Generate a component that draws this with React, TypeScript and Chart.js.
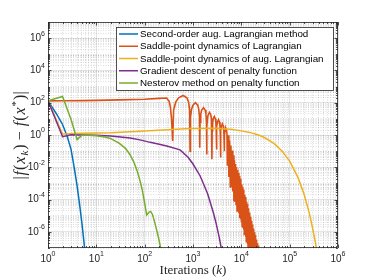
import React, { useEffect, useRef } from 'react';
import { Chart, registerables } from 'chart.js';
Chart.register(...registerables);

const seriesNames = [
  'Second-order aug. Lagrangian method',
  'Saddle-point dynamics of Lagrangian',
  'Saddle-point dynamics of aug. Lagrangian',
  'Gradient descent of penalty function',
  'Nesterov method on penalty function',
];
const seriesColors = ['#0072BD', '#D95319', '#EDB120', '#7E2F8E', '#77AC30'];

const blueK = [1, 1.5, 2, 2.5, 3, 3.5, 4, 4.5, 5, 5.5, 6];
const blueVal = [130, 20, 4.5, 0.8, 0.13, 9e-3, 7e-4, 5e-5, 4e-6, 3e-7, 2.2e-8];

const orangeK = [1, 2, 5, 10, 30, 100, 200, 283, 320, 340, 360, 380,
  397, 441, 503, 625, 748, 809, 853, 870,
  888, 934, 998, 1125, 1253, 1316, 1362, 1380,
  1399, 1448, 1515, 1650, 1785, 1853, 1901, 1920,
  1939, 1989, 2058, 2195, 2333, 2401, 2451, 2470,
  2490, 2543, 2615, 2760, 2905, 2978, 3030, 3050,
  3073, 3131, 3213, 3375, 3538, 3619, 3677, 3700,
  3725, 3790, 3880, 4060, 4240, 4330, 4395, 4420,
  4446, 4511, 4603, 4785, 4968, 5059, 5124, 5150,
  5338, 5525, 5713, 5900, 6088, 6275, 6463, 6650, 6838, 7025,
  7213, 7400, 7588, 7775, 7963, 8150, 8338, 8525, 8713, 8900,
  9088, 9275, 9463, 9650, 9838, 10025, 10213, 10400, 10588, 10775,
  10963, 11150, 11338, 11525, 11713, 11900, 12088, 12275, 12463, 12650,
  12838, 13025, 13213, 13400, 13588, 13775, 13963, 14150, 14338, 14525,
  14713, 14900, 15088, 15275, 15463, 15650, 15838, 16025, 16213, 16400,
  16588, 16775, 16963, 17150, 17338, 17525, 17713, 17900, 18088, 18275,
  18463, 18650, 18838, 19025, 19213, 19400, 19588, 19775, 19963, 20150,
  20338, 20525, 20713, 20900, 21088, 21275, 21463, 21650, 21838, 22025,
  22213, 22400, 22588, 22775, 22963, 23150, 23338, 23525];
const orangeVal = [130, 132, 135, 140, 150, 165, 185, 195, 125, 56, 10, 0.42,
  35, 112, 200, 280, 200, 112, 35, 0.1,
  12.6, 40, 71, 100, 71, 40, 12.6, 0.16,
  6.3, 20, 35, 50, 35, 20, 6.3, 0.063,
  3.2, 10, 17.8, 25, 17.8, 10, 3.2, 0.032,
  1.8, 5.6, 10, 14, 10, 5.6, 1.8, 0.126,
  1.12, 3.5, 6.3, 8.9, 6.3, 3.5, 1.12, 0.04,
  0.63, 2.0, 3.5, 5.0, 3.5, 2.0, 0.63, 0.1,
  0.32, 1.0, 1.8, 2.5, 1.8, 1.0, 0.32, 0.0126,
  0.95, 2.5e-3, 0.45, 6e-4, 0.22, 6.3e-4, 0.11, 3.2e-4, 0.055, 8e-5,
  0.0275, 8e-5, 0.016, 5e-5, 0.0105, 2e-5, 6.8e-3, 2.2e-5, 4.4e-3, 1.4e-5,
  2.9e-3, 7e-6, 1.95e-3, 6.3e-6, 1.32e-3, 4.4e-6, 8.9e-4, 2.2e-6, 6.2e-4, 2e-6,
  4.2e-4, 1.4e-6, 2.9e-4, 7e-7, 2.0e-4, 7e-7, 1.45e-4, 4.9e-7, 1.02e-4, 2.5e-7,
  7.3e-5, 2.5e-7, 5.3e-5, 1.8e-7, 3.9e-5, 1e-7, 2.9e-5, 1e-7, 2.1e-5, 7e-8,
  1.6e-5, 5e-8, 1.17e-5, 3.5e-8, 8.7e-6, 2.5e-8, 6.4e-6, 1.8e-8, 4.9e-6, 1.3e-8,
  3.7e-6, 1e-8, 2.9e-6, 7e-9, 2.1e-6, 5e-9, 1.6e-6, 4e-9, 1.2e-6, 3e-9,
  9.6e-7, 2.5e-9, 7.7e-7, 2e-9, 6.3e-7, 1.6e-9, 5e-7, 1.3e-9, 4.1e-7, 1e-9,
  3.4e-7, 8e-10, 2.9e-7, 7e-10, 2.4e-7, 6e-10, 2.0e-7, 5e-10, 1.7e-7, 4e-10,
  1.45e-7, 3e-10, 1.2e-7, 2.5e-10, 1.02e-7, 2e-10, 8.5e-8, 1.5e-10];

const yellowK = [1, 2, 5, 20, 100, 870, 3000, 6000, 10000, 15000, 20000, 25000, 30000,
  40000, 50000, 70000, 100000, 150000, 200000, 250000, 300000, 350000, 400000];
const yellowVal = [130, 1.15, 1.3, 1.4, 1.8, 2.5, 2.6, 2.25, 1.8, 1.45, 1.12, 0.9, 0.7,
  0.42, 0.26, 0.1, 0.024, 2.2e-3, 2e-4, 1.8e-5, 1.6e-6, 1.4e-7, 1.3e-8];

const purpleK = [1, 2, 3, 5, 10, 20, 50, 80, 130, 200, 300, 540, 800, 1000, 1400, 2000,
  2630, 3000, 3500, 4000];
const purpleVal = [130, 0.78, 1.05, 1.0, 0.95, 0.87, 0.65, 0.5, 0.35, 0.27, 0.2, 0.12, 0.04,
  0.016, 3e-3, 2.4e-4, 1.6e-5, 3.5e-6, 4.4e-7, 5e-8];

const greenK = [1, 2, 3, 4, 5, 7, 10, 15, 20, 30, 40, 50, 60, 70, 80, 90, 100, 110, 122,
  133, 145, 160, 180, 200, 220];
const greenVal = [130, 245, 9, 0.52, 0.95, 0.95, 0.9, 0.75, 0.6, 0.3, 0.15, 0.06, 0.02,
  0.006, 1.5e-3, 3.5e-4, 6e-5, 1.1e-5, 1.6e-5, 1.85e-5, 1.2e-5, 4.3e-6, 1.07e-6, 2.7e-7, 6.8e-8];

const seriesK = [blueK, orangeK, yellowK, purpleK, greenK];
const seriesVal = [blueVal, orangeVal, yellowVal, purpleVal, greenVal];

const xLabelExps = [0, 1, 2, 3, 4, 5, 6];
const yLabelExps = [-6, -4, -2, 0, 2, 4, 6];
const xTitle = ['Iterations (', 'k', ')'];

const AX = '#262626';
const SANS = '"Liberation Sans", Arial, sans-serif';
const SERIF = '"Liberation Serif", "DejaVu Serif", serif';

function buildLogTicks(lo: number, hi: number, isMajor: (e: number) => boolean) {
  const t: any[] = [];
  for (let e = lo; e <= hi; e++) {
    t.push({ value: Math.pow(10, e), major: isMajor(e) });
    if (e < hi) for (let m = 2; m <= 9; m++) t.push({ value: m * Math.pow(10, e), major: false });
  }
  return t;
}

const decor = {
  id: 'decor',
  afterDatasetsDraw(chart: any) {
    const { ctx, chartArea: a, scales } = chart;
    const xs = scales.x, ys = scales.y;
    ctx.save();
    ctx.strokeStyle = AX;
    ctx.lineWidth = 0.8;
    ctx.strokeRect(a.left + 0.5, a.top + 0.5, a.right - a.left - 1, a.bottom - a.top - 1);
    ctx.beginPath();
    for (const t of xs.ticks) {
      const p = Math.round(xs.getPixelForValue(t.value)) + 0.5;
      const len = t.major ? 3.5 : 2;
      ctx.moveTo(p, a.bottom); ctx.lineTo(p, a.bottom - len);
      ctx.moveTo(p, a.top); ctx.lineTo(p, a.top + len);
    }
    for (const t of ys.ticks) {
      const p = Math.round(ys.getPixelForValue(t.value)) + 0.5;
      const len = t.major ? 3.5 : 2;
      ctx.moveTo(a.left, p); ctx.lineTo(a.left + len, p);
      ctx.moveTo(a.right, p); ctx.lineTo(a.right - len, p);
    }
    ctx.stroke();

    ctx.fillStyle = AX;
    ctx.textBaseline = 'middle';
    ctx.textAlign = 'left';
    const baseF = `10px ${SANS}`;
    const supF = `7px ${SANS}`;
    const drawPow = (exp: number, x: number, y: number, align: string) => {
      const sup = String(exp);
      ctx.font = baseF;
      const wb = ctx.measureText('10').width;
      ctx.font = supF;
      const ws = ctx.measureText(sup).width;
      const total = wb + ws;
      const sx = align === 'right' ? x - total : x - total / 2;
      ctx.font = baseF;
      ctx.fillText('10', sx, y);
      ctx.font = supF;
      ctx.fillText(sup, sx + wb, y - 4.5);
    };
    for (const e of yLabelExps) drawPow(e, a.left - 3, ys.getPixelForValue(Math.pow(10, e)), 'right');
    for (const e of xLabelExps) drawPow(e, xs.getPixelForValue(Math.pow(10, e)), a.bottom + 11, 'center');

    ctx.font = `13px ${SERIF}`;
    const w0 = ctx.measureText(xTitle[0]).width;
    ctx.font = `italic 13px ${SERIF}`;
    const w1 = ctx.measureText(xTitle[1]).width;
    ctx.font = `13px ${SERIF}`;
    const w2 = ctx.measureText(xTitle[2]).width;
    const cx = (a.left + a.right) / 2;
    let tx = cx - (w0 + w1 + w2) / 2;
    const ty = 271;
    ctx.fillText(xTitle[0], tx, ty); tx += w0;
    ctx.font = `italic 13px ${SERIF}`;
    ctx.fillText(xTitle[1], tx, ty); tx += w1;
    ctx.font = `13px ${SERIF}`;
    ctx.fillText(xTitle[2], tx, ty);

    const F = 16;
    const parts = [
      { s: '|', f: `${F}px ${SERIF}`, dy: 0 },
      { s: 'f', f: `italic ${F}px ${SERIF}`, dy: 0 },
      { s: '(', f: `${F}px ${SERIF}`, dy: 0 },
      { s: 'x', f: `italic ${F}px ${SERIF}`, dy: 0 },
      { s: 'k', f: `italic 11px ${SERIF}`, dy: 4 },
      { s: ') \u2212 ', f: `${F}px ${SERIF}`, dy: 0 },
      { s: 'f', f: `italic ${F}px ${SERIF}`, dy: 0 },
      { s: '(', f: `${F}px ${SERIF}`, dy: 0 },
      { s: 'x', f: `italic ${F}px ${SERIF}`, dy: 0 },
      { s: '*', f: `11px ${SERIF}`, dy: -5 },
      { s: ')|', f: `${F}px ${SERIF}`, dy: 0 },
    ];
    let tw = 0;
    const ws: number[] = [];
    for (const p of parts) { ctx.font = p.f; const w = ctx.measureText(p.s).width + 1; ws.push(w); tw += w; }
    ctx.translate(21, (a.top + a.bottom) / 2);
    ctx.rotate(-Math.PI / 2);
    let px = -tw / 2;
    parts.forEach((p, i) => { ctx.font = p.f; ctx.fillText(p.s, px, p.dy); px += ws[i]; });
    ctx.setTransform(1, 0, 0, 1, 0, 0);

    const lx = 116, ly = 27, lw = 217, lh = 63;
    ctx.fillStyle = '#ffffff';
    ctx.fillRect(lx, ly, lw, lh);
    ctx.strokeStyle = AX;
    ctx.lineWidth = 0.8;
    ctx.strokeRect(lx + 0.5, ly + 0.5, lw, lh);
    ctx.font = `9.8px ${SANS}`;
    seriesNames.forEach((name, i) => {
      const yy = ly + 7 + i * 12.25;
      ctx.strokeStyle = seriesColors[i];
      ctx.lineWidth = 1.5;
      ctx.beginPath();
      ctx.moveTo(lx + 3, yy); ctx.lineTo(lx + 22, yy);
      ctx.stroke();
      ctx.fillStyle = '#000000';
      ctx.fillText(name, lx + 24, yy + 0.5);
    });
    ctx.restore();
  },
};

export default function App() {
  const ref = useRef<HTMLCanvasElement | null>(null);
  useEffect(() => {
    if (!ref.current) return;
    const datasets = seriesNames.map((name, i) => ({
      label: name,
      data: seriesK[i].map((k, j) => ({ x: k, y: seriesVal[i][j] })),
      borderColor: seriesColors[i],
      backgroundColor: seriesColors[i],
      borderWidth: i === 1 ? 1.6 : 1.5,
      pointRadius: 0,
      fill: false,
      tension: 0,
      order: 4 - i,
    }));
    const gridColor = (c: any) => (c.tick && c.tick.major ? 'rgba(38,38,38,0.16)' : 'rgba(38,38,38,0.2)');
    const gridDash = (c: any) => (c.tick && c.tick.major ? [] : [1, 1.5]);
    const chart = new Chart(ref.current, {
      type: 'line',
      data: { datasets: datasets as any },
      options: {
        animation: false,
        responsive: false,
        maintainAspectRatio: false,
        layout: { padding: { left: 0, top: 22, right: 36, bottom: 0 } },
        plugins: { legend: { display: false }, tooltip: { enabled: false } },
        scales: {
          x: {
            type: 'logarithmic',
            min: 1,
            max: 1e6,
            afterBuildTicks: (s: any) => { s.ticks = buildLogTicks(0, 6, () => true); },
            afterFit: (s: any) => { s.height = 32; },
            ticks: { display: false },
            grid: { color: gridColor, lineWidth: 0.8, drawTicks: false },
            border: { display: false, dash: gridDash },
          },
          y: {
            type: 'logarithmic',
            min: 1e-7,
            max: 1e7,
            afterBuildTicks: (s: any) => { s.ticks = buildLogTicks(-7, 7, (e) => e % 2 === 0); },
            afterFit: (s: any) => { s.width = 48; },
            ticks: { display: false },
            grid: { color: gridColor, lineWidth: 0.8, drawTicks: false },
            border: { display: false, dash: gridDash },
          },
        },
      },
      plugins: [decor],
    });
    return () => chart.destroy();
  }, []);
  return (
    <div style={{ position: 'absolute', left: 0, top: 0, width: 374, height: 280, background: '#fff' }}>
      <canvas ref={ref} width={374} height={280} style={{ width: 374, height: 280 }} />
    </div>
  );
}
